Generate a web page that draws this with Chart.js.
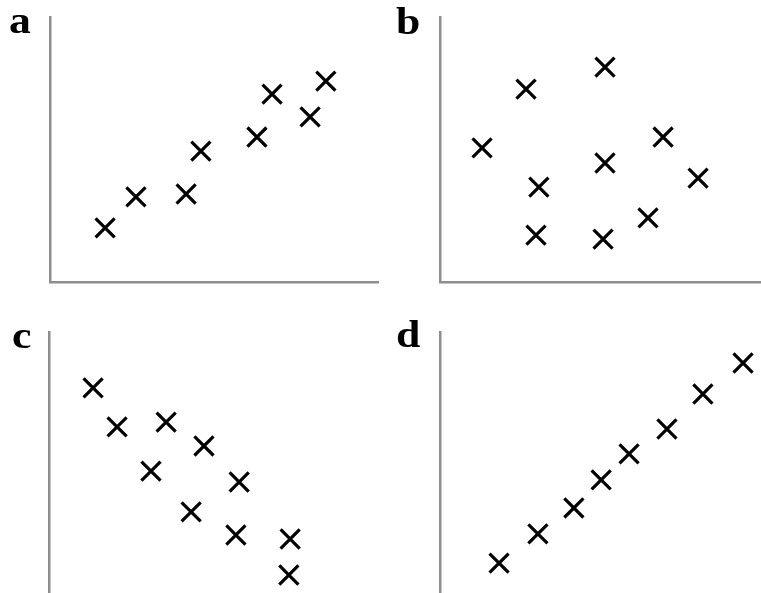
<!DOCTYPE html>
<html>
<head>
<meta charset="utf-8">
<title>Scatter panels a-d</title>
<script src="https://cdn.jsdelivr.net/npm/chart.js@4.4.1/dist/chart.umd.min.js"></script>
<style>
    html, body {
        margin: 0;
        padding: 0;
        width: 761px;
        height: 593px;
        overflow: hidden;
        background: #ffffff;
    }
    canvas {
        position: absolute;
        display: block;
    }
    .panel-label {
        position: absolute;
        font-family: "Liberation Serif", "DejaVu Serif", serif;
        font-weight: bold;
        font-size: 38px;
        line-height: 38px;
        color: #000000;
        transform: scaleX(1.15);
        transform-origin: left top;
    }
</style>
</head>
<body>

<canvas id="chartA" width="380" height="296" style="left:0;top:0"></canvas>
<canvas id="chartB" width="381" height="296" style="left:380px;top:0"></canvas>
<canvas id="chartC" width="380" height="310" style="left:0;top:296px"></canvas>
<canvas id="chartD" width="381" height="310" style="left:380px;top:296px"></canvas>

<div class="panel-label" style="left:9px;top:1px">a</div>
<div class="panel-label" style="left:396px;top:2px">b</div>
<div class="panel-label" style="left:12px;top:316px">c</div>
<div class="panel-label" style="left:396px;top:315px">d</div>

<script>
// ===== DATA (axes run 0..10) =====

const axisMin = 0;
const axisMax = 10;

// Panel a - positive correlation
const aX = [1.68, 2.62, 4.15, 4.60, 6.31, 6.77, 7.93, 8.41];
const aY = [2.04, 3.21, 3.32, 4.94, 5.47, 7.09, 6.23, 7.58];

// Panel b - no correlation
const bX = [1.31, 2.68, 5.14, 3.08, 5.14, 6.95, 8.04, 2.99, 5.08, 6.48];
const bY = [5.06, 7.28, 8.11, 3.58, 4.49, 5.47, 3.92, 1.77, 1.62, 2.42];

// Panel c - negative correlation
const cX = [1.34, 2.07, 3.56, 4.71, 3.10, 5.78, 4.32, 5.68, 7.33, 7.29];
const cY = [7.89, 6.42, 6.60, 5.70, 4.75, 4.34, 3.21, 2.34, 2.19, 0.83];

// Panel d - strong positive correlation
const dX = [1.84, 3.05, 4.17, 5.02, 5.89, 7.07, 8.19, 9.44];
const dY = [1.28, 2.38, 3.36, 4.42, 5.40, 6.34, 7.66, 8.83];

// ===== CHART SETUP =====

function toPoints(xs, ys) {
    return xs.map((x, i) => ({ x: x, y: ys[i] }));
}

function axisOptions() {
    return {
        type: 'linear',
        min: axisMin,
        max: axisMax,
        ticks: { display: false },
        grid: { display: false, drawTicks: false },
        border: { display: true, color: '#8e8e8e', width: 2.5 }
    };
}

function makePanel(canvasId, xs, ys, padding) {
    const ctx = document.getElementById(canvasId);
    if (!ctx) return null;

    return new Chart(ctx.getContext('2d'), {
        type: 'scatter',
        data: {
            datasets: [{
                data: toPoints(xs, ys),
                pointStyle: 'crossRot',
                pointRadius: 13.5,
                pointBorderWidth: 3.2,
                pointBorderColor: '#000000',
                pointBackgroundColor: '#000000',
                clip: false
            }]
        },
        options: {
            responsive: false,
            animation: false,
            events: [],
            layout: { padding: padding, autoPadding: false },
            plugins: {
                legend: { display: false },
                tooltip: { enabled: false }
            },
            scales: {
                x: axisOptions(),
                y: axisOptions()
            }
        }
    });
}

// bottom panels hang below the window, so their x axis is cut off like the source
makePanel('chartA', aX, aY, { left: 50, top: 17, right: 2, bottom: 14 });
makePanel('chartB', bX, bY, { left: 60, top: 17, right: 0, bottom: 14 });
makePanel('chartC', cX, cY, { left: 49, top: 36, right: 2, bottom: 9 });
makePanel('chartD', dX, dY, { left: 60, top: 36, right: 0, bottom: 9 });
</script>
</body>
</html>
